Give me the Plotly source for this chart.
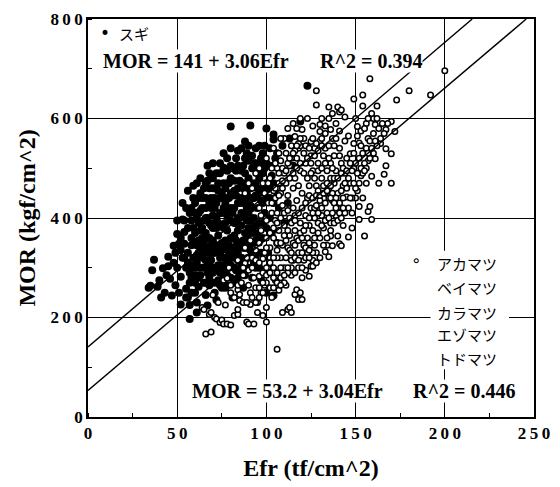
import plotly.graph_objects as go

# ---- data ----
sugi_points = [
    (34,260),(35,264),(36,295),(37,316),(39,262),(40,275),(42,299),(43,250),(44,285),(45,322),(45,303),(41,240),
    (47,244),(48,344),(46,278),(49,265),(50,368),(51,348),(52,226),(53,397),(50,300),(52,282),(53,320),(54,348),
    (55,258),(51,250),(54,395),(55,420),(53,430),(49,330),(48,310),(55,300),(54,372),(52,360),(55,240),(50,395),
    (57,197),(56,240),(57,270),(58,300),(56,330),(58,360),(59,380),(57,410),(59,440),(56,455),(60,250),(60,320),
    (58,345),(59,465),(61,210),(61,230),(62,262),(63,285),(61,310),(64,335),(62,355),(63,375),(61,400),(64,420),
    (62,440),(65,460),(63,480),(64,300),(65,270),(62,390),(60,285),(57,225),(59,350),(63,415),(60,430),(58,395),
    (64,360),(65,395),(61,470),(63,330),
    (67,224),(66,245),(68,265),(67,290),(69,315),(66,340),(68,360),(70,380),(67,400),(69,420),(66,440),(68,460),
    (70,480),(67,505),(66,370),(69,345),(70,300),(68,330),(71,250),(72,235),(73,275),(71,295),(74,320),(72,345),
    (73,365),(71,390),(74,410),(72,430),(75,450),(73,470),(72,490),(74,510),(75,350),(71,330),(73,455),(74,385),
    (70,405),(66,420),(69,440),(75,300),(67,475),(71,440),(75,260),(68,390),(73,305),(70,355),
    (76,501),(77,260),(78,285),(76,305),(79,330),(77,355),(78,375),(80,395),(76,420),(79,440),(77,460),(80,480),
    (78,520),(80,584),(79,300),(76,345),(78,405),(81,240),(82,270),(83,295),(81,320),(84,345),(82,365),(83,390),
    (81,410),(84,430),(82,455),(85,475),(83,495),(84,535),(81,360),(85,320),(82,500),(77,390),(80,360),(83,445),
    (79,415),(85,400),(76,280),(84,375),(80,505),(82,420),(78,470),(85,290),(81,445),
    (88,554),(87,260),(86,290),(88,315),(87,340),(89,360),(86,385),(88,405),(87,430),(89,450),(86,470),(88,490),
    (90,515),(89,530),(86,410),(90,380),(91,586),(92,280),(93,310),(91,335),(94,355),(92,380),(93,400),(91,425),
    (94,445),(92,470),(95,490),(93,510),(94,540),(95,420),(90,345),(87,505),(89,395),(91,460),(93,370),(95,330),
    (88,370),(90,440),(94,300),(86,350),
    (96,300),(97,330),(98,360),(96,390),(99,410),(97,435),(98,460),(96,480),(99,500),(100,580),(97,520),(100,440),
    (101,330),(103,370),(102,400),(104,430),(101,460),(104,568),(104,558),(97,275),(104,244),(100,250),(103,485),
    (99,545),(105,520),(96,545),(102,505),
    (109,545),(119,594),(123,666),(108,470),(112,430),(110,390),(107,420),(115,505),(106,350),(113,560),
    (52,335),(56,310),(58,280),(60,300),(62,330),(64,380),(66,300),(66,400),(68,310),(68,430),(70,330),(70,430),
    (70,460),(72,270),(72,380),(72,400),(74,290),(74,345),(74,440),(74,490),(76,320),(76,380),(76,440),(76,470),
    (78,300),(78,340),(78,440),(78,495),(80,320),(80,420),(80,450),(82,300),(82,340),(82,390),(82,475),(84,315),
    (84,400),(84,460),(84,505),(86,320),(86,440),(86,495),(88,340),(88,430),(88,470),(88,520),(90,300),(90,410),
    (90,480),(90,545),(92,350),(92,420),(92,440),(92,500),(92,525),(94,385),(94,470),(94,510),(96,360),(96,450),
    (96,510),(98,390),(98,430),(98,490),(98,530),(100,380),(100,470),(100,510),(102,440),(102,540),(104,470),
    (106,450),(106,530),(60,370),(60,410),(58,420),(56,380),(54,320),(62,410),(64,440),(66,470),(68,490),(72,460),
    (70,510),(76,530),(80,540),(86,540),(57,290),(59,320),(61,345),(63,450),(65,330),(67,360),(69,385),(71,420),
    (73,390),(75,410),(77,430),(79,470),(81,500),(83,520),(85,430),(87,460),(89,420),(91,395),(93,440),(95,460),
    (62,300),(64,320),(66,315),(68,300),(70,290),(72,300),(74,305),(76,295),(78,315),(80,305),(82,325),(84,330),
    (86,305),(88,300),(90,320),(92,330),(94,320),(59,305),(61,325),(63,345),(65,350),(67,330),(69,330),(71,345),
    (73,335),(75,335),(77,320),(79,345),(81,340),(83,355),(85,350),(87,355),(89,340),(91,370),(93,350),(95,370),
    (58,250),(60,270),(62,280),(66,270),(68,280),(70,270),(74,265),(78,265),(80,280),(84,280),(88,285),
]

other_points = [
    (66,167),(69,171),(64,220),(65,216),(68,206),(69,210),(71,200),(72,197),(74,190),(75,195),(76,187),(78,187),
    (80,185),(73,230),(76,275),(78,279),(80,250),(80,265),(70,245),(77,225),(79,300),
    (82,204),(84,206),(84,216),(82,240),(84,256),(84,265),(85,246),(85,234),(84,315),(87,230),(87,285),(88,309),
    (89,191),(91,226),(91,250),(93,187),(90,187),(86,270),(90,295),(92,320),(94,260),(93,280),(88,340),(91,355),
    (94,335),(89,230),
    (95,210),(95,230),(96,283),(98,204),(98,318),(100,191),(100,220),(97,250),(99,265),(101,300),(103,240),(102,340),
    (96,350),(104,360),(97,375),(100,395),(103,410),(99,330),(105,275),(101,430),(104,455),(98,470),(102,480),
    (105,395),(96,420),
    (106,136),(107,255),(109,210),(112,216),(113,220),(114,210),(111,265),(110,300),(108,320),(112,340),(106,350),
    (114,285),(107,375),(110,385),(113,400),(106,410),(109,425),(112,445),(115,460),(107,470),(110,490),(113,505),
    (108,515),(111,530),(114,545),(110,560),(116,564),(106,500),(115,315),(113,365),(108,450),(115,420),(111,355),
    (116,246),(117,256),(118,236),(119,250),(120,236),(120,280),(122,295),(124,283),(125,303),(118,330),(121,345),
    (123,360),(116,375),(119,390),(122,405),(125,420),(117,435),(120,450),(124,465),(116,480),(119,495),(122,510),
    (125,525),(118,540),(119,545),(121,560),(120,578),(119,600),(123,600),(125,554),(117,520),(124,385),(121,315),
    (116,405),(123,440),(118,465),(125,345),
    (126,303),(126,315),(128,330),(127,345),(130,360),(126,375),(129,390),(131,405),(127,420),(130,435),(133,450),
    (128,465),(131,480),(126,495),(129,510),(132,525),(127,540),(130,555),(133,570),(128,627),(128,656),(130,588),
    (130,574),(133,332),(135,322),(134,345),(132,380),(134,410),(135,460),(134,495),(131,600),(126,585),(129,455),
    (133,540),
    (135,623),(136,578),(136,364),(137,344),(140,364),(141,348),(142,344),(136,390),(139,405),(142,420),(137,435),
    (140,450),(143,465),(136,480),(139,495),(142,510),(138,525),(141,540),(144,555),(137,560),(140,623),(141,613),
    (142,617),(144,603),(145,442),(143,385),(138,470),(144,490),(141,575),(136,510),(139,590),(145,520),
    (146,362),(147,529),(149,639),(151,584),(152,551),(152,397),(152,423),(153,545),(154,625),(154,647),(155,364),
    (157,560),(157,413),(157,515),(158,423),(159,397),(159,484),(158,680),(148,410),(150,440),(147,470),
    (149,500),(151,455),(153,485),(155,510),(148,380),(146,565),(150,600),(156,470),(154,440),(149,530),(160,600),
    (156,590),
    (161,519),(161,588),(162,625),(162,600),(166,488),(167,505),(167,578),(167,539),(170,470),(170,529),
    (170,594),(172,574),(173,637),(164,550),(163,470),
    (180,656),(192,647),(200,696),
    (87,300),(89,320),(92,300),(94,315),(96,310),(98,290),(100,340),(102,320),(104,300),(106,320),(108,300),
    (109,345),(111,320),(113,335),(115,350),(117,360),(119,370),(121,375),(123,330),(124,350),(104,380),(106,390),
    (108,400),(110,410),(112,415),(114,390),(116,395),(118,410),(120,420),(122,430),(124,445),(103,430),(105,440),
    (107,445),(109,460),(111,470),(113,480),(115,490),(117,500),(119,510),(121,490),(123,480),(125,490),(127,480),
    (129,495),(131,500),(133,510),(135,520),(137,500),(112,510),(114,520),(116,535),(118,550),(122,545),(124,540),
    (126,560),(128,550),(131,545),(135,545),(138,545),(127,400),(129,410),(131,420),(133,430),(135,440),(137,450),
    (139,440),(141,430),(143,440),(126,440),(128,445),(132,465),(134,470),(136,465),(138,480),(140,480),(142,490),
    (100,360),(102,370),(97,405),(99,450),(101,470),(103,500),(105,510),(107,530),(109,500),
    (90,265),(92,240),(94,230),(96,240),(98,250),(100,270),(102,260),(104,280),(106,290),(108,280),(110,270),
    (112,290),(114,300),(116,290),(118,300),(120,300),(122,320),(124,320),(126,330),(128,310),(130,320),(132,345),
    (134,360),(136,375),(138,390),(140,395),(142,400),(144,410),(146,420),(148,440),(150,460),(152,470),(154,490),
    (156,500),(158,520),(160,530),(162,545),(164,560),(166,570),(168,590),(100,300),(102,310),(104,320),(106,335),
    (108,350),(110,365),(112,375),(114,330),(116,345),(118,355),(120,360),(122,385),(124,400),(126,410),(128,425),
    (130,445),(132,450),(134,455),(136,440),(138,430),(140,420),(142,455),(144,470),(146,480),(148,495),(150,510),
    (152,520),(154,530),(156,540),(158,555),(160,570),(105,460),(107,490),(109,475),(111,495),(113,520),(115,530),
    (117,545),(119,560),(121,530),(123,520),(125,510),(127,525),(129,535),(131,560),(133,585),(135,600),(137,610),
    (139,560),(141,525),(143,500),(145,495),(147,510),(149,550),(151,565),(153,575),(155,580),(157,600),(159,610),
    (115,590),(117,580),(112,580),(108,560),(104,540),(100,520),(96,500),(94,490),(92,460),(90,470),(88,450),
    (96,260),(98,270),(100,285),(102,290),(104,260),(106,270),(108,265),(110,285),(112,300),(114,315),(116,320),
    (118,315),(120,330),(122,340),(124,335),(127,360),(129,370),(131,385),(133,395),(135,400),(137,410),(139,420),
    (141,410),(143,420),(145,460),(147,440),(149,470),(151,490),(153,500),(155,495),(157,530),(159,540),(161,555),
    (163,580),(165,590),
]

sugi_efr = [p[0] for p in sugi_points]
sugi_mor = [p[1] for p in sugi_points]
other_efr = [p[0] for p in other_points]
other_mor = [p[1] for p in other_points]

# regression coefficients (intercept, slope) as printed on the chart
sugi_fit = (141.0, 3.06)
other_fit = (53.2, 3.04)
sugi_r2 = "0.394"
other_r2 = "0.446"

other_species = ["アカマツ", "ベイマツ", "カラマツ", "エゾマツ", "トドマツ"]

x_ticks = [0, 50, 100, 150, 200, 250]
y_ticks = [0, 200, 400, 600, 800]
X_MAX, Y_MAX = 250, 800


def spaced(v):
    return "\u2009".join(str(v))


SERIF = "Liberation Serif"
JP = "Noto Sans CJK JP"

fig = go.Figure()

fig.add_trace(go.Scatter(
    x=sugi_efr, y=sugi_mor, mode="markers", name="スギ",
    marker=dict(symbol="circle", size=8, color="black", line=dict(width=0)),
))
fig.add_trace(go.Scatter(
    x=other_efr, y=other_mor, mode="markers", name="others",
    marker=dict(symbol="circle", size=5.5, color="white", line=dict(width=1.5, color="black")),
))

for b, m in (sugi_fit, other_fit):
    x_end = min(X_MAX, (Y_MAX - b) / m)
    fig.add_trace(go.Scatter(
        x=[0, x_end], y=[b, b + m * x_end], mode="lines",
        line=dict(color="black", width=1.4), hoverinfo="skip",
    ))

eq_font = dict(family=SERIF, size=20, color="black", weight="bold")
ann = []
ann.append(dict(x=9.3, y=771, xref="x", yref="y", text="•", showarrow=False,
                xanchor="center", yanchor="middle", font=dict(family="DejaVu Sans", size=17, color="black")))
ann.append(dict(x=16.5, y=771, xref="x", yref="y", text="スギ", showarrow=False,
                xanchor="left", yanchor="middle", font=dict(family=JP, size=15, color="black")))
ann.append(dict(x=60.4, y=716, xref="x", yref="y",
                text=f"MOR = {sugi_fit[0]:.0f} + {sugi_fit[1]:.2f}Efr", showarrow=False,
                xanchor="center", yanchor="middle", font=eq_font, bgcolor="white", borderpad=0))
ann.append(dict(x=158.8, y=716, xref="x", yref="y", text=f"R^2 = {sugi_r2}", showarrow=False,
                xanchor="center", yanchor="middle", font=eq_font, bgcolor="white", borderpad=0))
ann.append(dict(x=112, y=53, xref="x", yref="y",
                text=f"MOR = {other_fit[0]:.1f} + {other_fit[1]:.2f}Efr", showarrow=False,
                xanchor="center", yanchor="middle", font=eq_font, bgcolor="white", borderpad=0))
ann.append(dict(x=210.5, y=53, xref="x", yref="y", text=f"R^2 = {other_r2}", showarrow=False,
                xanchor="center", yanchor="middle", font=eq_font, bgcolor="white", borderpad=0))
ann.append(dict(x=184, y=315, xref="x", yref="y", text="∘", showarrow=False,
                xanchor="center", yanchor="middle", font=dict(family="DejaVu Sans", size=16, color="black")))
leg_y = [309, 260, 210, 165, 118]
for name, yy in zip(other_species, leg_y):
    ann.append(dict(x=194.5, y=yy, xref="x", yref="y", text=name, showarrow=False,
                    xanchor="left", yanchor="middle", font=dict(family=JP, size=15, color="black")))

fig.update_layout(
    width=560, height=487,
    margin=dict(l=88, r=17, t=10, b=70),
    paper_bgcolor="white", plot_bgcolor="white",
    showlegend=False,
    annotations=ann,
    shapes=[dict(type="rect", xref="x", yref="y", x0=192, x1=236, y0=96, y1=334,
                 fillcolor="white", line=dict(width=0), layer="above")],
)

axis_common = dict(
    showline=True, linecolor="black", linewidth=1.8, mirror=True,
    showgrid=True, gridcolor="black", gridwidth=1.2,
    zeroline=False, ticks="",
    tickfont=dict(family=SERIF, size=17, color="black", weight="bold"),
)
fig.update_xaxes(
    range=[0, X_MAX], tickvals=x_ticks, ticktext=[spaced(v) for v in x_ticks],
    minor=dict(dtick=25, tick0=0, ticks="inside", ticklen=4, tickcolor="black", showgrid=False),
    title=dict(text="Efr (tf/cm^2)", font=dict(family=SERIF, size=24, color="black", weight="bold"), standoff=17),
    **axis_common,
)
fig.update_yaxes(
    range=[0, Y_MAX], tickvals=y_ticks, ticktext=[spaced(v) for v in y_ticks],
    minor=dict(dtick=100, tick0=0, ticks="inside", ticklen=4, tickcolor="black", showgrid=False),
    title=dict(text="MOR (kgf/cm^2)", font=dict(family=SERIF, size=24, color="black", weight="bold"), standoff=8),
    **axis_common,
)

fig.write_html("out.html")
